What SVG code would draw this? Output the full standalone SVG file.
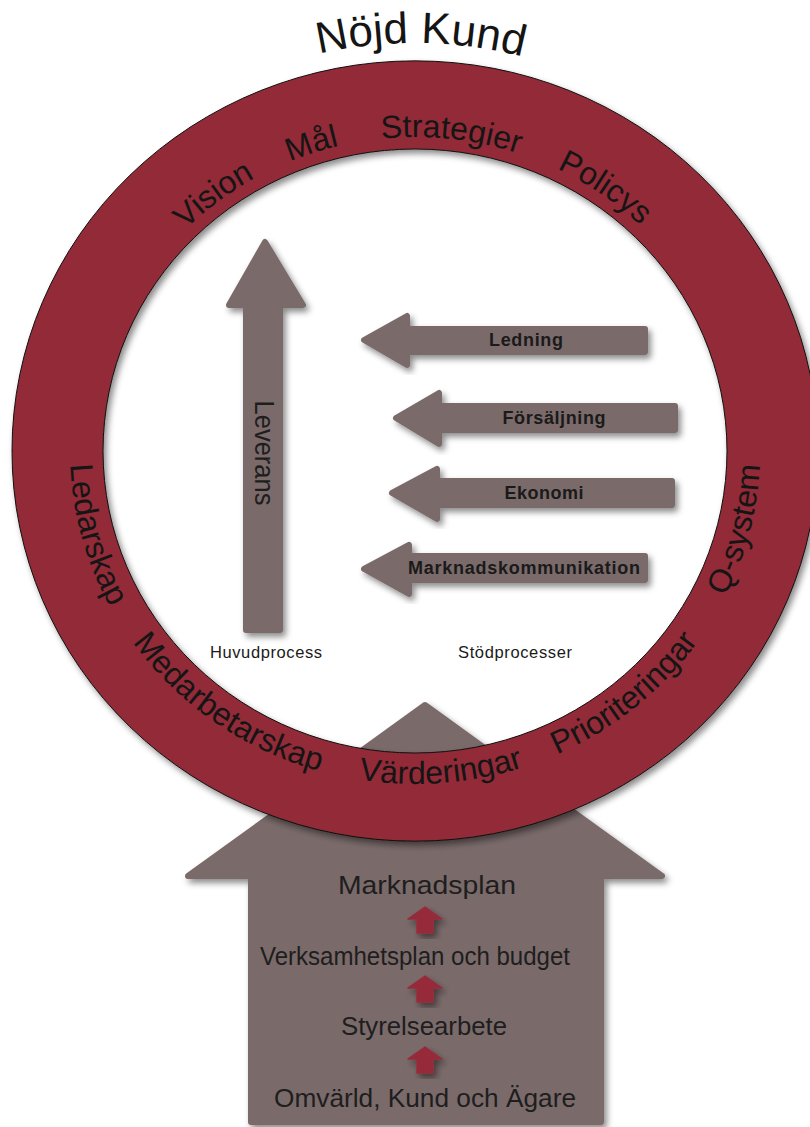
<svg xmlns="http://www.w3.org/2000/svg" width="810" height="1127" viewBox="0 0 810 1127">
<defs>
<style>
.gray{fill:#7a6b6b;stroke:#7a6b6b;stroke-width:6;stroke-linejoin:round}
.ringtxt{font-family:"Liberation Sans",Arial,sans-serif;font-size:32px;fill:#151515}
.lbl{font-family:"Liberation Sans",Arial,sans-serif;font-size:18px;font-weight:bold;fill:#1a1a1a;text-anchor:middle}
.small{font-family:"Liberation Sans",Arial,sans-serif;font-size:16.5px;fill:#1a1a1a;text-anchor:middle}
.house{font-family:"Liberation Sans",Arial,sans-serif;font-size:25px;fill:#1e1e1e;text-anchor:middle}
</style>
<filter id="sh" x="-10%" y="-10%" width="130%" height="130%">
<feDropShadow dx="3" dy="4" stdDeviation="3" flood-color="#000" flood-opacity="0.45"/>
</filter>
<path id="redArrow" d="M0,0 L17,12 L8,12 L8,26 L-8,26 L-8,12 L-17,12 Z" fill="#962b3b" stroke="#962b3b" stroke-width="1.5" stroke-linejoin="round"/>
<path id="pNojd" d="M178.9,113.5 A420,408 0 0 1 660.7,120.1"/>
<path id="pVision" d="M105.8,357.1 A324,314 0 0 1 400.3,137.3"/>
<path id="pMal" d="M155.2,263.4 A324,314 0 0 1 508.1,150.3"/>
<path id="pStrat" d="M259.9,175.3 A324,314 0 0 1 629.3,215.5"/>
<path id="pPol" d="M416.7,137.0 A324,314 0 0 1 720.0,345.2"/>
<path id="pLed" d="M90.8,337.1 A345,333 0 0 0 193.2,706.1"/>
<path id="pMed" d="M89.4,561.1 A345,333 0 0 0 410.8,784.0"/>
<path id="pVard" d="M239.9,737.9 A345,333 0 0 0 634.5,707.9"/>
<path id="pPrio" d="M445.1,782.7 A345,333 0 0 0 748.2,537.2"/>
<path id="pQ" d="M641.4,702.3 A345,333 0 0 0 737.1,331.7"/>
</defs>
<rect width="810" height="1127" fill="#ffffff"/>

<g id="house">
<polygon class="gray" filter="url(#sh)" points="425,705 662,876 601,876 601,1122 251,1122 251,876 188,876"/>
<text class="house" x="427" y="894" textLength="178" lengthAdjust="spacingAndGlyphs">Marknadsplan</text>
<text class="house" x="415" y="965" textLength="310" lengthAdjust="spacingAndGlyphs">Verksamhetsplan och budget</text>
<text class="house" x="424" y="1035" textLength="166" lengthAdjust="spacingAndGlyphs">Styrelsearbete</text>
<text class="house" x="425" y="1107" textLength="302" lengthAdjust="spacingAndGlyphs">Omvärld, Kund och Ägare</text>
<use href="#redArrow" x="425" y="907" filter="url(#sh)"/>
<use href="#redArrow" x="425" y="976" filter="url(#sh)"/>
<use href="#redArrow" x="425" y="1047" filter="url(#sh)"/>
</g>

<g id="ring">
<path filter="url(#sh)" fill="#922b39" stroke="#111" stroke-width="1" fill-rule="evenodd" d="M12,451 A403,390 0 1 0 818,451 A403,390 0 1 0 12,451 Z M103,451 A312,302 0 1 0 727,451 A312,302 0 1 0 103,451 Z"/>
<text class="ringtxt" text-anchor="middle"><textPath href="#pVision" startOffset="50%">Vision</textPath></text>
<text class="ringtxt" text-anchor="middle"><textPath href="#pMal" startOffset="50%">Mål</textPath></text>
<text class="ringtxt" text-anchor="middle"><textPath href="#pStrat" startOffset="50%">Strategier</textPath></text>
<text class="ringtxt" text-anchor="middle"><textPath href="#pPol" startOffset="50%">Policys</textPath></text>
<text class="ringtxt" text-anchor="middle"><textPath href="#pLed" startOffset="50%">Ledarskap</textPath></text>
<text class="ringtxt" text-anchor="middle"><textPath href="#pMed" startOffset="50%">Medarbetarskap</textPath></text>
<text class="ringtxt" text-anchor="middle"><textPath href="#pVard" startOffset="50%">Värderingar</textPath></text>
<text class="ringtxt" text-anchor="middle"><textPath href="#pPrio" startOffset="50%">Prioriteringar</textPath></text>
<text class="ringtxt" text-anchor="middle"><textPath href="#pQ" startOffset="50%">Q-system</textPath></text>
</g>

<g id="nojd-kund">
<text class="ringtxt" style="font-size:44px" text-anchor="middle"><textPath href="#pNojd" startOffset="50%">Nöjd Kund</textPath></text>
</g>

<g id="leverans">
<polygon class="gray" filter="url(#sh)" points="265,242 303,305 280,305 280,630 246,630 246,305 229,305"/>
<text transform="translate(255,453) rotate(90)" text-anchor="middle" font-family="Liberation Sans, Arial, sans-serif" font-size="27" fill="#1e1e1e" textLength="105" lengthAdjust="spacingAndGlyphs">Leverans</text>
</g>

<g id="ledning">
<polygon class="gray" filter="url(#sh)" points="364,340 407,316 407,329 645,329 645,352 407,352 407,365"/>
<text class="lbl" x="526" y="346" textLength="74">Ledning</text>
</g>
<g id="forsaljning">
<polygon class="gray" filter="url(#sh)" points="396,418 439,393 439,406 675,406 675,430 439,430 439,444"/>
<text class="lbl" x="554" y="424" textLength="103">Försäljning</text>
</g>
<g id="ekonomi">
<polygon class="gray" filter="url(#sh)" points="392,493 437,469 437,481 672,481 672,505 437,505 437,519"/>
<text class="lbl" x="544" y="499" textLength="79">Ekonomi</text>
</g>
<g id="marknadskommunikation">
<polygon class="gray" filter="url(#sh)" points="364,569 409,545 409,556 645,556 645,580 409,580 409,594"/>
<text class="lbl" x="524" y="574" textLength="232">Marknadskommunikation</text>
</g>

<g id="labels">
<text class="small" x="266" y="658" textLength="112">Huvudprocess</text>
<text class="small" x="515" y="658" textLength="114">Stödprocesser</text>
</g>
<g id="connectors"></g>
</svg>
